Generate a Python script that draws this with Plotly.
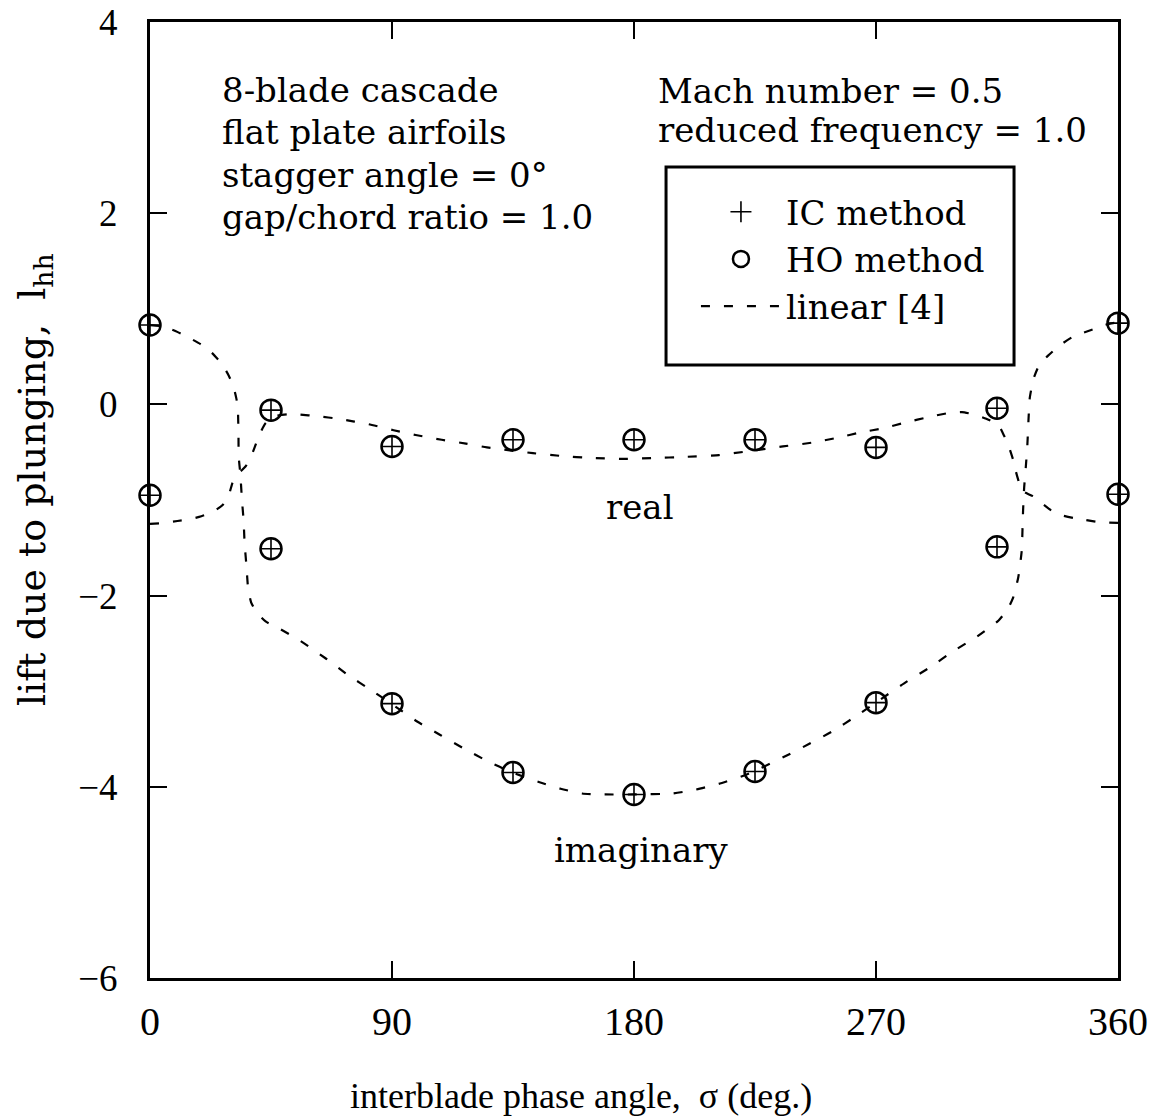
import plotly.graph_objects as go

# Interblade phase angles at which the nonlinear solutions were computed (deg.)
sigma_pts = [0, 45, 90, 135, 180, 225, 270, 315, 360]

# Lift due to plunging, l_hh -- IC method
ic_real = [-0.95, -0.06, -0.44, -0.37, -0.37, -0.37, -0.45, -0.04, -0.94]
ic_imag = [0.83, -1.51, -3.13, -3.85, -4.08, -3.84, -3.12, -1.49, 0.85]

# Lift due to plunging, l_hh -- HO method
ho_real = [-0.95, -0.06, -0.44, -0.37, -0.37, -0.37, -0.45, -0.04, -0.94]
ho_imag = [0.83, -1.51, -3.13, -3.85, -4.08, -3.84, -3.12, -1.49, 0.85]

# Linear theory [4], real part
lin_real_sigma = [0, 5, 10.2, 15, 19.1, 23, 27.1, 29.5, 30.7, 32.3, 33.8, 35.5, 36.9,
                  38.5, 40.1, 41.5, 42.9, 45, 47, 51, 55.1, 62.6, 70, 76, 81.3, 90.6,
                  98.8, 108.5, 117.5, 125.3, 142.4, 153.2, 164, 177, 187.8, 198.2,
                  211.6, 222.4, 235.4, 246.2, 255.5, 264.8, 272.6, 280.8, 290, 297,
                  302, 306.5, 311, 315.4, 317.5, 319.5, 321, 322, 323, 324, 326,
                  328.3, 331.5, 335.2, 339, 343.7, 348, 352.6, 360]
lin_real = [-1.25, -1.24, -1.22, -1.20, -1.17, -1.13, -1.05, -0.93, -0.82, -0.75, -0.70,
            -0.65, -0.59, -0.48, -0.36, -0.27, -0.20, -0.15, -0.12, -0.105, -0.105,
            -0.125, -0.15, -0.18, -0.207, -0.27, -0.32, -0.37, -0.41, -0.45, -0.51,
            -0.54, -0.56, -0.57, -0.56, -0.55, -0.53, -0.49, -0.44, -0.40, -0.35,
            -0.29, -0.25, -0.19, -0.13, -0.09, -0.08, -0.105, -0.15, -0.21, -0.32,
            -0.45, -0.58, -0.70, -0.80, -0.90, -0.93, -0.96, -1.03, -1.11, -1.16,
            -1.19, -1.21, -1.23, -1.24]

# Linear theory [4], imaginary part
lin_imag_sigma = [0, 4, 8.3, 13, 18.8, 23, 26.8, 29.3, 31.1, 32.2, 32.7, 32.9, 33.0,
                  33.6, 34.2, 34.8, 35.2, 35.9, 36.5, 37.6, 39.5, 43, 48.4, 55.7, 65,
                  73.6, 82.3, 89.7, 99.5, 108.1, 117.4, 125.4, 134.7, 144.6, 152.7,
                  160.7, 168.8, 179.7, 194.2, 202.9, 211.5, 220.2, 224.6, 237, 245.2,
                  253.8, 262.6, 269.9, 281.4, 290.1, 298.8, 307.5, 315.6, 319, 321,
                  322.9, 324.2, 324.5, 324.7, 325.1, 325.7, 326.3, 326.7, 327.2, 328.5,
                  330.5, 334, 338, 343.4, 351.2, 355, 360]
lin_imag = [0.83, 0.82, 0.78, 0.72, 0.63, 0.54, 0.42, 0.30, 0.18, 0.05, -0.07, -0.31,
            -0.55, -0.73, -1.00, -1.21, -1.46, -1.70, -1.93, -2.07, -2.17, -2.27,
            -2.35, -2.47, -2.65, -2.83, -2.99, -3.13, -3.32, -3.46, -3.61, -3.73,
            -3.85, -3.95, -4.02, -4.07, -4.08, -4.08, -4.07, -4.03, -3.97, -3.89,
            -3.84, -3.67, -3.55, -3.42, -3.26, -3.12, -2.90, -2.75, -2.58, -2.43,
            -2.26, -2.14, -2.02, -1.81, -1.53, -1.29, -1.11, -0.87, -0.66, -0.42,
            -0.17, 0.07, 0.26, 0.40, 0.51, 0.61, 0.71, 0.79, 0.83, 0.86]

x_ticks = [0, 90, 180, 270, 360]
y_ticks = [-6, -4, -2, 0, 2, 4]

SERIF = "DejaVu Serif"
TICK_FONT = "Liberation Serif"
INK = "black"

fig = go.Figure()

cross_marker = dict(symbol="cross-thin-open", size=15, color=INK,
                    line=dict(width=1.6, color=INK))
circle_marker = dict(symbol="circle-open", size=21, color=INK,
                     line=dict(width=2.5, color=INK))
dash_line = dict(color=INK, width=2.2, dash="9px,14px", shape="spline", smoothing=0.5)

for ys, show in ((ic_real, True), (ic_imag, False)):
    fig.add_trace(go.Scatter(x=sigma_pts, y=ys, mode="markers", marker=cross_marker,
                             name="IC method", legendgroup="ic", showlegend=show,
                             cliponaxis=False))
for ys, show in ((ho_real, True), (ho_imag, False)):
    fig.add_trace(go.Scatter(x=sigma_pts, y=ys, mode="markers", marker=circle_marker,
                             name="HO method", legendgroup="ho", showlegend=show,
                             cliponaxis=False))
fig.add_trace(go.Scatter(x=lin_real_sigma, y=lin_real, mode="lines", line=dash_line,
                         name="linear [4]", legendgroup="lin", showlegend=True))
fig.add_trace(go.Scatter(x=lin_imag_sigma, y=lin_imag, mode="lines", line=dash_line,
                         name="linear [4]", legendgroup="lin", showlegend=False))

axis_common = dict(
    showline=True, linewidth=3, linecolor=INK, mirror="ticks",
    ticks="inside", ticklen=17, tickwidth=2, tickcolor=INK,
    showgrid=False, zeroline=False, automargin=False, ticklabeloverflow="allow",
)

fig.update_xaxes(range=[0, 360], tickvals=x_ticks, ticklabelstandoff=6,
                 tickfont=dict(family=TICK_FONT, size=40, color=INK), **axis_common)
fig.update_yaxes(range=[-6, 4], tickvals=y_ticks, ticklabelstandoff=22,
                 tickfont=dict(family=TICK_FONT, size=37, color=INK), **axis_common)

txt = dict(family=SERIF, size=34, color=INK)
notes = [
    ("8-blade cascade", 0.0723, 0.9289, "left"),
    ("flat plate airfoils", 0.0723, 0.8848, "left"),
    ("stagger angle = 0°", 0.0723, 0.8396, "left"),
    ("gap/chord ratio = 1.0", 0.0723, 0.7960, "left"),
    ("Mach number = 0.5", 0.5227, 0.9279, "left"),
    ("reduced frequency = 1.0", 0.5227, 0.8871, "left"),
    ("real", 0.5062, 0.4927, "center"),
    ("imaginary", 0.5072, 0.1339, "center"),
]
for text, x, y, anchor in notes:
    fig.add_annotation(text=text, x=x, y=y, xref="paper", yref="paper",
                       xanchor=anchor, yanchor="middle", showarrow=False, font=txt)

# axis titles
fig.add_annotation(text="interblade phase angle,  σ (deg.)", x=0.4452, y=-0.1234,
                   xref="paper", yref="paper", xanchor="center", yanchor="middle",
                   showarrow=False, font=dict(family=TICK_FONT, size=36, color=INK))
fig.add_annotation(text="lift due to plunging,  l<sub>hh</sub>", x=-0.1198, y=0.5209,
                   xref="paper", yref="paper", xanchor="center", yanchor="middle",
                   textangle=-90, showarrow=False,
                   font=dict(family=SERIF, size=38, color=INK))

# legend frame
fig.add_shape(type="rect", xref="paper", yref="paper", x0=0.5331, x1=0.8926,
              y0=0.6412, y1=0.8483, line=dict(color=INK, width=3), fillcolor="rgba(0,0,0,0)")

fig.update_layout(
    width=1155, height=1120,
    margin=dict(l=150, r=37, t=22, b=142),
    paper_bgcolor="white", plot_bgcolor="white",
    font=dict(family=SERIF, color=INK),
    showlegend=True,
    legend=dict(x=0.5640, y=0.8315, xanchor="left", yanchor="top",
                bgcolor="rgba(0,0,0,0)", borderwidth=0, itemwidth=80,
                tracegroupgap=8,
                font=dict(family=SERIF, size=34, color=INK), traceorder="normal"),
)

fig.write_html("out.html")
